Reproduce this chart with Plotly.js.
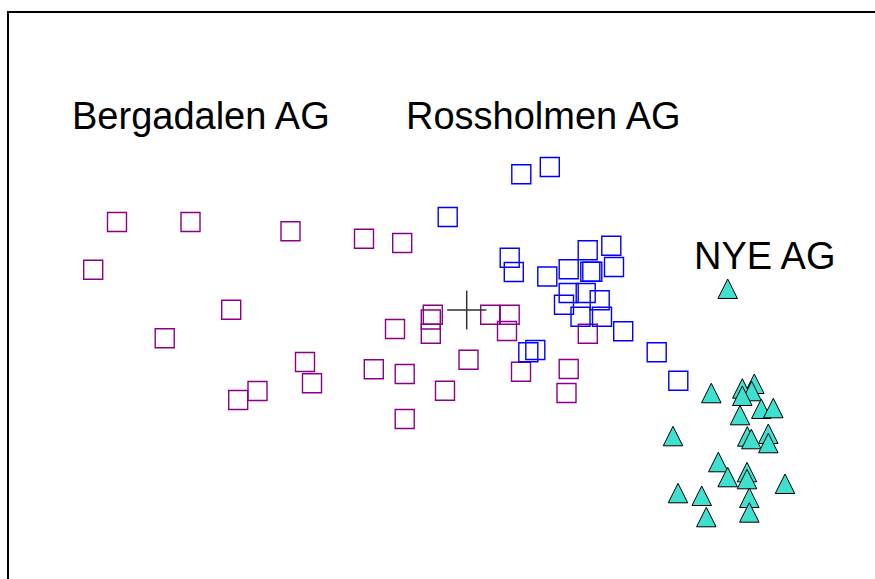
<!DOCTYPE html>
<html>
<head>
<meta charset="utf-8">
<script src="https://cdn.plot.ly/plotly-3.0.1.min.js"></script>
<style>html,body{margin:0;padding:0;background:#fff;}#chart{width:875px;height:579px;}</style>
</head>
<body>
<div id="chart"></div>
<script>
// Ordination scores (axis 1 to the right, axis 2 downward)
const bergX = [117, 190.5, 290.5, 364, 402.2, 93.2, 231.2, 164.7, 305, 312, 257.5, 238.2, 395, 432.8, 430.8, 430.8, 490.2, 509.7, 507, 468.5, 373.8, 404.7, 445, 404.7, 521, 587.8, 568.7, 566.5];
const bergY = [222, 222, 231.3, 238.7, 243, 269.7, 309.7, 338.3, 362, 383.3, 391, 400, 329, 314.8, 319.5, 333.8, 314.8, 314.8, 331, 359.8, 369.3, 374, 390.8, 419, 371.7, 333.7, 369, 393];

const rossX = [521.3, 549.8, 447.7, 509.7, 513.8, 547.3, 568.7, 587.7, 611.3, 590.3, 592.3, 614, 568.7, 585.7, 564, 599.7, 580.5, 602, 623.2, 656.7, 678.3, 528.3, 535.3];
const rossY = [174.3, 167, 217, 257.8, 272, 276.5, 269.3, 250.3, 245.7, 271.8, 271.8, 267, 293, 293, 304.8, 300.3, 316.8, 316.8, 331.2, 352.3, 380.8, 352.3, 350];

const nyeX = [727.7, 711.3, 754.3, 742.3, 751.7, 742.3, 761.3, 773.3, 740, 673, 747.3, 751.3, 768.3, 768.3, 718.3, 727.7, 747, 747, 785, 678, 701.7, 749.3, 706.3, 749.3];
const nyeY = [279, 383.3, 374, 378.7, 381.3, 386, 399, 398.3, 405.3, 426.3, 426.7, 429.3, 424, 433.3, 452.3, 467.3, 462.3, 469.3, 474, 483.3, 486, 488, 507.3, 502.7];

const centroidX = [466.7];
const centroidY = [310];

const groupLabels = ["Bergadalen AG", "Rossholmen AG", "NYE AG"];
const labelX = [70, 404, 692];
const labelY = [116, 116, 256];

const FONT = "Liberation Sans, Arial, Helvetica, sans-serif";

const traces = [
  {
    type: "scatter", mode: "markers", name: groupLabels[0],
    x: bergX, y: bergY,
    marker: {symbol: "square-open", size: 19, color: "#8B008B", line: {width: 1.4, color: "#8B008B"}}
  },
  {
    type: "scatter", mode: "markers", name: groupLabels[1],
    x: rossX, y: rossY,
    marker: {symbol: "square-open", size: 19, color: "#0000FF", line: {width: 1.4, color: "#0000FF"}}
  },
  {
    type: "scatter", mode: "markers", name: groupLabels[2],
    x: nyeX, y: nyeY,
    marker: {symbol: "arrow-up", size: 19.5, color: "#40E0D0", line: {width: 1, color: "#000000"}}
  },
  {
    type: "scatter", mode: "markers", name: "centroid",
    x: centroidX, y: centroidY,
    marker: {symbol: "cross-thin", size: 28, color: "#333333", line: {width: 1.5, color: "#333333"}}
  }
];

const annotations = groupLabels.map((t, i) => ({
  text: t, x: labelX[i], y: labelY[i], xref: "x", yref: "y",
  xanchor: "left", yanchor: "middle", showarrow: false,
  font: {family: FONT, size: 38, color: "#000000"}
}));

const layout = {
  width: 875, height: 579,
  margin: {l: 0, r: 0, t: 0, b: 0},
  paper_bgcolor: "#ffffff", plot_bgcolor: "#ffffff",
  showlegend: false,
  xaxis: {range: [0, 875], visible: false, fixedrange: true},
  yaxis: {range: [579, 0], visible: false, fixedrange: true},
  annotations: annotations,
  shapes: [{
    type: "rect", xref: "paper", yref: "paper",
    x0: 8 / 875, y0: 1 - 12 / 579, x1: 1.05, y1: -0.05,
    line: {color: "#000000", width: 2}, fillcolor: "rgba(0,0,0,0)", layer: "below"
  }]
};

Plotly.newPlot("chart", traces, layout, {displayModeBar: false, staticPlot: true});
</script>
</body>
</html>
